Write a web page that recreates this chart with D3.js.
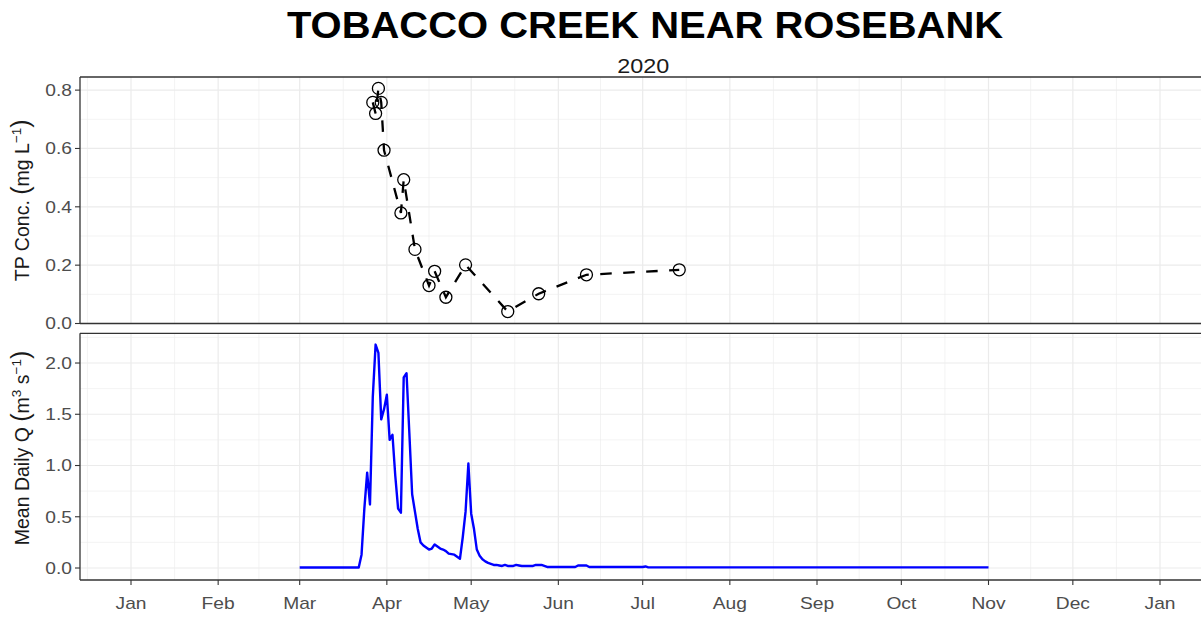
<!DOCTYPE html>
<html>
<head>
<meta charset="utf-8">
<script src="https://cdn.jsdelivr.net/npm/d3@7"></script>
<style>
  html, body { margin: 0; padding: 0; background: #fff; }
  svg { display: block; }
  text { font-family: "Liberation Sans", Arial, sans-serif; }
</style>
</head>
<body>
<svg id="chart" width="1201" height="617"></svg>
<script>
// ---------------- DATA ----------------
const chartTitle = "TOBACCO CREEK NEAR ROSEBANK";
const chartSubtitle = "2020";

const monthTickStart = "2020-01-01";
const monthTickEnd = "2021-01-01";

const tpTicks = [0.0, 0.2, 0.4, 0.6, 0.8];
const qTicks = [0.0, 0.5, 1.0, 1.5, 2.0];

// TP concentration samples (mg/L)
const tpDates = ["2020-03-27","2020-03-28","2020-03-29","2020-03-30","2020-03-31",
                 "2020-04-06","2020-04-07","2020-04-11","2020-04-16","2020-04-18",
                 "2020-04-22","2020-04-29","2020-05-14","2020-05-25","2020-06-11","2020-07-14"];
const tpValues = [0.758,0.720,0.806,0.758,0.594,
                  0.379,0.493,0.254,0.130,0.179,
                  0.090,0.201,0.041,0.102,0.167,0.184];

// Mean daily discharge (m3/s), one value per day starting at flowStart
const flowStart = "2020-03-01";
const flowValues = [
  0.005,0.005,0.005,0.005,0.005,0.005,0.005,0.005,0.005,0.005,
  0.005,0.005,0.005,0.005,0.005,0.005,0.005,0.005,0.005,0.005,
  0.005,0.005,                                            // Mar 1 - Mar 22
  0.13,0.58,0.93,0.62,1.67,2.18,2.10,1.45,1.55,1.69,      // Mar 23 - Apr 1
  1.25,1.30,0.90,0.58,0.54,1.86,1.90,1.32,0.72,0.55,      // Apr 2 - Apr 11
  0.38,0.25,0.22,0.20,0.18,0.19,0.23,0.21,0.19,0.18,      // Apr 12 - Apr 21
  0.165,0.14,0.135,0.13,0.11,0.09,0.30,0.55,1.02,0.53,    // Apr 22 - May 1
  0.38,0.18,0.12,0.085,0.065,0.05,0.04,0.03,0.03,0.025,   // May 2 - May 11
  0.02,0.03,0.02,0.02,0.02,0.03,0.025,0.02,0.02,0.02,     // May 12 - May 21
  0.02,0.02,0.03,0.03,0.03,0.02,                          // May 22 - May 27
  0.01,0.01,0.01,0.01,0.01,0.01,0.01,0.01,0.01,0.01,0.01, // May 28 - Jun 7
  0.025,0.025,0.025,0.025,                                // Jun 8 - Jun 11
  0.01,0.01,0.01,0.01,0.01,0.01,0.01,0.01,0.01,0.01,
  0.01,0.01,0.01,0.01,0.01,0.01,0.01,0.01,0.01,0.01,      // Jun 12 - Jul 1
  0.015,                                                  // Jul 2
  0.006,0.006,0.006,0.006,0.006,0.006,0.006,0.006,0.006,0.006,
  0.006,0.006,0.006,0.006,0.006,0.006,0.006,0.006,0.006,0.006,
  0.006,0.006,0.006,0.006,0.006,0.006,0.006,0.006,0.006,0.006,
  0.006,0.006,0.006,0.006,0.006,0.006,0.006,0.006,0.006,0.006,
  0.006,0.006,0.006,0.006,0.006,0.006,0.006,0.006,0.006,0.006,
  0.006,0.006,0.006,0.006,0.006,0.006,0.006,0.006,0.006,0.006,
  0.006,0.006,0.006,0.006,0.006,0.006,0.006,0.006,0.006,0.006,
  0.006,0.006,0.006,0.006,0.006,0.006,0.006,0.006,0.006,0.006,
  0.006,0.006,0.006,0.006,0.006,0.006,0.006,0.006,0.006,0.006,
  0.006,0.006,0.006,0.006,0.006,0.006,0.006,0.006,0.006,0.006,
  0.006,0.006,0.006,0.006,0.006,0.006,0.006,0.006,0.006,0.006,
  0.006,0.006,0.006,0.006,0.006,0.006,0.006,0.006,0.006,0.006,
  0.006,0.006                                             // Jul 3 - Nov 1
];

// ---------------- LAYOUT ----------------
const svg = d3.select("#chart");
const panelLeft = 80, panelRight = 1201;
const top1 = 77, bot1 = 323.5;
const top2 = 333.3, bot2 = 580;
const stretch = 1.2;   // horizontal text stretch seen in the reference

const parse = d3.utcParse("%Y-%m-%d");
const tMin = parse(monthTickStart), tMax = parse(monthTickEnd);

const x = d3.scaleUtc().domain([tMin, tMax]).range([131, 1160]);
const yTP = d3.scaleLinear().domain([0, 0.845]).range([bot1, top1]);
const yQ = d3.scaleLinear().domain([-0.117, 2.29]).range([bot2, top2]);

const tpData = tpDates.map((d, i) => ({ date: parse(d), v: tpValues[i] }));
const fStart = parse(flowStart);
const flowData = flowValues.map((v, i) => ({ date: d3.utcDay.offset(fStart, i), v }));

const monthTicks = d3.utcMonth.range(tMin, d3.utcDay.offset(tMax, 1));
const extMonths = d3.utcMonth.range(d3.utcMonth.offset(tMin, -1), d3.utcMonth.offset(tMax, 2));
const minorX = d3.pairs(extMonths).map(([a, b]) => (x(a) + x(b)) / 2);

const gridCol = "#ebebeb";
const axisCol = "#333333";
const textCol = "#4d4d4d";

const defs = svg.append("defs");
defs.append("clipPath").attr("id", "clip1").append("rect")
  .attr("x", panelLeft).attr("y", top1).attr("width", panelRight - panelLeft).attr("height", bot1 - top1);
defs.append("clipPath").attr("id", "clip2").append("rect")
  .attr("x", panelLeft).attr("y", top2).attr("width", panelRight - panelLeft).attr("height", bot2 - top2);

function drawGrid(g, y, yMajor, clipId, top, bot) {
  const gg = g.append("g").attr("clip-path", `url(#${clipId})`);
  const step = yMajor[1] - yMajor[0];
  const yMinor = d3.pairs(yMajor).map(([a, b]) => (a + b) / 2)
    .concat([yMajor[yMajor.length - 1] + step / 2, yMajor[0] - step / 2]);
  gg.selectAll(".ymin").data(yMinor).join("line")
    .attr("x1", panelLeft).attr("x2", panelRight)
    .attr("y1", d => y(d)).attr("y2", d => y(d))
    .attr("stroke", gridCol).attr("stroke-width", 0.6);
  gg.selectAll(".xmin").data(minorX).join("line")
    .attr("x1", d => d).attr("x2", d => d).attr("y1", top).attr("y2", bot)
    .attr("stroke", gridCol).attr("stroke-width", 0.6);
  gg.selectAll(".ymaj").data(yMajor).join("line")
    .attr("x1", panelLeft).attr("x2", panelRight)
    .attr("y1", d => y(d)).attr("y2", d => y(d))
    .attr("stroke", gridCol).attr("stroke-width", 1.2);
  gg.selectAll(".xmaj").data(monthTicks).join("line")
    .attr("x1", d => x(d)).attr("x2", d => x(d)).attr("y1", top).attr("y2", bot)
    .attr("stroke", gridCol).attr("stroke-width", 1.2);
  return gg;
}

function stretchedText(parent, px, py, anchor, size, fill, str, weight) {
  const t = parent.append("g").attr("transform", `translate(${px},${py}) scale(${stretch},1)`)
    .append("text").attr("text-anchor", anchor).attr("font-size", size).attr("fill", fill).text(str);
  if (weight) t.attr("font-weight", weight);
  return t;
}

function drawYAxis(y, ticks) {
  const g = svg.append("g");
  g.selectAll("line").data(ticks).join("line")
    .attr("x1", panelLeft - 5).attr("x2", panelLeft)
    .attr("y1", d => y(d)).attr("y2", d => y(d))
    .attr("stroke", axisCol).attr("stroke-width", 1.1);
  ticks.forEach(d => {
    stretchedText(g, panelLeft - 8, y(d) + 5.8, "end", 16, textCol, d3.format(".1f")(d));
  });
}

function drawBorder(top, bot) {
  const b = svg.append("g").attr("stroke", axisCol).attr("stroke-width", 1.3);
  b.append("line").attr("x1", panelLeft).attr("x2", panelRight).attr("y1", top).attr("y2", top);
  b.append("line").attr("x1", panelLeft).attr("x2", panelRight).attr("y1", bot).attr("y2", bot);
  b.append("line").attr("x1", panelLeft).attr("x2", panelLeft).attr("y1", top).attr("y2", bot);
}

// ---------------- TOP PANEL ----------------
const g1 = drawGrid(svg.append("g"), yTP, tpTicks, "clip1", top1, bot1);
g1.append("path").datum(tpData)
  .attr("fill", "none").attr("stroke", "#000").attr("stroke-width", 2.3)
  .attr("stroke-dasharray", "11.5,11.5")
  .attr("d", d3.line().x(d => x(d.date)).y(d => yTP(d.v)));
g1.selectAll("circle").data(tpData).join("circle")
  .attr("cx", d => x(d.date)).attr("cy", d => yTP(d.v)).attr("r", 6)
  .attr("fill", "none").attr("stroke", "#000").attr("stroke-width", 1.3);
drawBorder(top1, bot1);
drawYAxis(yTP, tpTicks);

// ---------------- BOTTOM PANEL ----------------
const g2 = drawGrid(svg.append("g"), yQ, qTicks, "clip2", top2, bot2);
g2.append("path").datum(flowData)
  .attr("fill", "none").attr("stroke", "#0000ff").attr("stroke-width", 2.4)
  .attr("stroke-linejoin", "round")
  .attr("d", d3.line().x(d => x(d.date)).y(d => yQ(d.v)));
drawBorder(top2, bot2);
drawYAxis(yQ, qTicks);

// x axis
const gx = svg.append("g");
gx.selectAll("line").data(monthTicks).join("line")
  .attr("x1", d => x(d)).attr("x2", d => x(d)).attr("y1", bot2).attr("y2", bot2 + 5)
  .attr("stroke", axisCol).attr("stroke-width", 1.1);
monthTicks.forEach(d => {
  stretchedText(gx, x(d), bot2 + 28.5, "middle", 16, textCol, d3.utcFormat("%b")(d));
});

// ---------------- TITLES ----------------
svg.append("g").attr("transform", "translate(645,38.3) scale(1.08,1)")
  .append("text").attr("text-anchor", "middle")
  .attr("font-size", 37).attr("font-weight", "bold").attr("fill", "#000")
  .text(chartTitle);
stretchedText(svg, 643.3, 72.7, "middle", 19.5, "#1a1a1a", chartSubtitle);

function yTitle(cy, parts) {
  const t = svg.append("g")
    .attr("transform", `translate(29,${cy}) rotate(-90)`)
    .append("text")
    .attr("text-anchor", "middle").attr("font-size", 19.5).attr("fill", "#1a1a1a");
  parts.forEach(p => {
    const s = t.append("tspan").text(p.text);
    if (p.size) s.attr("font-size", p.size);
    if (p.dy) s.attr("dy", p.dy);
  });
}
yTitle((top1 + bot1) / 2, [
  { text: "TP Conc. " },
  { text: "(", size: 25 },
  { text: "mg L" },
  { text: "\u22121", size: 13.5, dy: -8 },
  { text: ")", size: 25, dy: 8 }
]);
yTitle(448, [
  { text: "Mean Daily Q  " },
  { text: "(", size: 25 },
  { text: "m" },
  { text: "3", size: 13.5, dy: -8 },
  { text: " s", dy: 8 },
  { text: "\u22121", size: 13.5, dy: -8 },
  { text: ")", size: 25, dy: 8 }
]);
</script>
</body>
</html>
